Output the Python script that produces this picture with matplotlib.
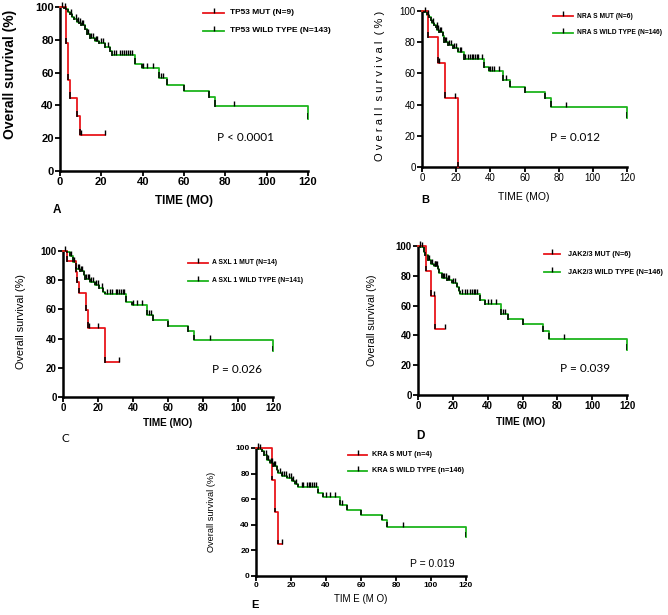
#!/usr/bin/env python3
# km_panels.py - overall survival by mutation status, five KM panels
import matplotlib
matplotlib.use('Agg')
import matplotlib.pyplot as plt
from matplotlib.lines import Line2D

plt.rcParams['font.family'] = ['Liberation Sans', 'DejaVu Sans']

W, H = 668, 615
RED = '#e8161b'
GREEN = '#1eb41e'
XTICKS = [0, 20, 40, 60, 80, 100, 120]
YTICKS = [0, 20, 40, 60, 80, 100]

# --- A: TP53
tp53_mut_t = [0, 3, 4, 5, 8.4, 9.5]
tp53_mut_s = [100, 77.8, 55.6, 44.4, 33.3, 22.2]
tp53_mut_end = 22
tp53_mut_cens = [10, 22]
tp53_wt_t = [0, 2, 3, 4, 5, 6, 7, 8, 9, 10, 12, 13, 14.5, 17, 19, 22, 24, 25, 36.5, 39.5, 48, 52, 60, 72, 75, 120]
tp53_wt_s = [100, 99.3, 98.5, 97, 95.5, 94, 92.5, 91, 90, 89, 86.5, 83.5, 81, 79.5, 78, 75.5, 73, 70.5, 65.5, 63, 57, 52.5, 49, 45, 39.5, 32]
tp53_wt_cens = [1, 2.5, 5.5, 7.5, 8.5, 9.5, 10.5, 11, 13.5, 15, 16, 17.5, 18, 20, 21, 23, 26, 27, 29, 30, 31, 32, 33, 34, 35, 40, 42, 45, 49, 50, 84]

# --- B: NRAS
nras_mut_t = [0, 3.3, 9.1, 13.2, 21]
nras_mut_s = [100, 83.3, 66.7, 44.4, 0]
nras_mut_end = 21
nras_mut_cens = [10, 19.6]
nras_wt_t = [0, 1, 3, 4, 5, 6, 7, 8, 9, 10, 12, 13, 15, 18, 21, 24.3, 36, 39, 47.7, 51.6, 60, 72, 75.3, 120]
nras_wt_s = [100, 99.3, 97.5, 96, 94, 92.5, 91, 89.5, 88, 86.5, 84, 80, 78, 76, 74, 69, 64, 61.7, 55.7, 51.5, 48, 44, 38.5, 31.5]
nras_wt_cens = [1.5, 3.5, 6.5, 8.5, 9.5, 10.5, 11, 13.5, 14, 16, 17, 19, 20, 22, 23, 25, 27, 28, 29, 30, 31, 32, 33, 35, 40, 41, 42, 45, 49, 84]

# --- C: ASXL1
asxl1_mut_t = [0, 2.5, 7.5, 8, 9, 13, 14, 24]
asxl1_mut_s = [100, 92.9, 85.7, 78.6, 71.4, 59.5, 47.6, 23.8]
asxl1_mut_end = 32
asxl1_mut_cens = [15, 20, 32]
asxl1_wt_t = [0, 2, 3.8, 5.7, 7.3, 9.6, 11.9, 12.4, 15.3, 18.2, 20.6, 23, 24, 36, 39.2, 47.8, 51.6, 59.8, 71.7, 75.1, 120]
asxl1_wt_s = [100, 99, 96.8, 92.7, 88, 86, 83.6, 80.6, 79, 76.8, 74.5, 72.2, 70.6, 65.4, 63, 56.3, 52.4, 48.3, 44.9, 39.2, 31.7]
asxl1_wt_cens = [1, 4.5, 6.5, 8.5, 9, 10, 11, 13, 14, 15, 16, 17, 19, 20, 22, 25, 27, 28, 30, 31, 32, 33, 34, 35, 40, 42, 45, 49, 50, 84]

# --- D: JAK2/3
jak_mut_t = [0, 4.8, 7.5, 10]
jak_mut_s = [100, 83.3, 66.7, 44.4]
jak_mut_end = 15
jak_mut_cens = [9, 15.3]
jak_wt_t = [0, 1.3, 3.3, 4.2, 5.5, 7.5, 9, 11.3, 12.2, 13.8, 16.7, 19.5, 22.4, 23.3, 24.3, 35.8, 38.7, 47.8, 51.7, 60.1, 71.8, 75, 120]
jak_wt_s = [100, 99, 96, 93.7, 90.4, 88, 86.6, 84.8, 81.9, 78.7, 77, 75.2, 72.5, 69.8, 68, 63.5, 60.9, 54.1, 50.8, 47.4, 42.9, 37.8, 30.4]
jak_wt_cens = [1, 2.5, 6.5, 8, 9.5, 10, 10.5, 11, 14.5, 15, 16, 17.5, 18, 20, 21, 25, 27, 28, 30, 31, 32, 33, 34, 40, 42, 45, 49, 50, 84]

# --- E: KRAS
kras_mut_t = [0, 9.2, 11, 12.8]
kras_mut_s = [100, 75, 50, 25]
kras_mut_end = 15
kras_mut_cens = [14.7]
kras_wt_t = [0, 1.3, 3.2, 4.8, 6.5, 8, 9.5, 11.8, 12.8, 14.7, 17.6, 20.4, 22.3, 24.2, 35.7, 38.5, 48.1, 51.9, 59.9, 71.9, 74.8, 120]
kras_wt_s = [100, 99, 97.4, 94.3, 90.9, 88.3, 85.6, 83, 80.4, 78.3, 76.5, 74.4, 71.8, 69.5, 64.8, 62.1, 55.6, 51.7, 47.8, 43.9, 38.6, 30.8]
kras_wt_cens = [1, 2.5, 5.5, 7, 8.5, 9, 10, 11, 13.5, 15, 16, 17, 19, 20, 21, 23, 26, 27, 29, 30, 31, 32, 33, 34, 40, 42, 45, 49, 84]


def px(x, y):
    return x / W, 1 - y / H


def surv_at(t, s, c):
    v = s[0]
    for ti, si in zip(t, s):
        if ti <= c:
            v = si
    return v


def km(ax, t, s, end, cens, color):
    ax.step(list(t) + [end], list(s) + [s[-1]], where='post', color=color,
            lw=1.3, zorder=3, clip_on=False)
    for i in range(1, len(t)):
        drop = s[i - 1] - s[i]
        ax.vlines(t[i], s[i] - 0.3, s[i] + min(drop, 3.5), color='k', lw=1.1, zorder=4)
    cy = [surv_at(t, s, c) for c in cens]
    ax.plot(cens, cy, ls='none', marker=2, ms=3.3, mew=1.0, color='k', zorder=5, clip_on=False)


def legend(fig, labels, ys, x0, x1, xt, fs):
    for lab, c, y in zip(labels, [RED, GREEN], ys):
        fig.add_artist(Line2D([x0 / W, x1 / W], [1 - y / H] * 2, color=c, lw=1.3,
                              transform=fig.transFigure))
        fig.add_artist(Line2D([(x0 + x1) / 2 / W], [1 - y / H], marker=2, ms=3.3, mew=1.0,
                              color='k', transform=fig.transFigure))
        fig.text(xt / W, 1 - y / H, lab, fontsize=fs, fontweight='bold', va='center')


def panel(fig, box, tsize, tweight):
    l, t, r, b = box
    ax = fig.add_axes([l / W, 1 - b / H, (r - l) / W, (b - t) / H])
    for sp in ('top', 'right'):
        ax.spines[sp].set_visible(False)
    for sp in ('left', 'bottom'):
        ax.spines[sp].set_linewidth(1.8)
    ax.set_xlim(0, 120); ax.set_ylim(0, 100)
    ax.set_xticks(XTICKS); ax.set_yticks(YTICKS)
    ax.tick_params(direction='out', length=3.5, width=1.3, labelsize=tsize, pad=1)
    for lab in ax.get_xticklabels() + ax.get_yticklabels():
        lab.set_fontweight(tweight)
    return ax


fig = plt.figure(figsize=(W / 100, H / 100), dpi=100)

# A
ax = panel(fig, (60, 7, 308, 171), 8, 'bold')
km(ax, tp53_wt_t, tp53_wt_s, 120, tp53_wt_cens, GREEN)
km(ax, tp53_mut_t, tp53_mut_s, tp53_mut_end, tp53_mut_cens, RED)
ax.text(76, 20.5, 'P < 0.0001', fontsize=8.5, family=['Lato', 'DejaVu Sans'], va='center')
legend(fig, ['TP53 MUT (N=9)', 'TP53 WILD TYPE (N=143)'], [13, 31], 203, 224, 230, 6.0)
fig.text(*px(10, 74), 'Overall survival (%)', rotation=90, fontsize=10, fontweight='bold', ha='center', va='center')
fig.text(*px(184, 201), 'TIME (MO)', fontsize=8.5, fontweight='bold', ha='center', va='center')
fig.text(*px(57, 210), 'A', fontsize=8.5, fontweight='bold', ha='center', va='center')

# B
ax = panel(fig, (422, 11, 627, 167), 7, 'normal')
km(ax, nras_wt_t, nras_wt_s, 120, nras_wt_cens, GREEN)
km(ax, nras_mut_t, nras_mut_s, nras_mut_end, nras_mut_cens, RED)
ax.text(75, 19, 'P = 0.012', fontsize=8.5, family=['Lato', 'DejaVu Sans'], va='center')
legend(fig, ['NRA S MUT (N=6)', 'NRA S WILD TYPE (N=146)'], [16, 33], 553, 573, 577, 4.8)
fig.text(*px(380, 86), 'O v e r a l l  s u r v i v a l  ( % )', rotation=90, fontsize=8, ha='center', va='center')
fig.text(*px(524, 197), 'TIME (MO)', fontsize=7.5, ha='center', va='center')
fig.text(*px(425, 200), 'B', fontsize=8, fontweight='bold', ha='center', va='center')

# C
ax = panel(fig, (63, 251, 273, 397), 7, 'bold')
km(ax, asxl1_wt_t, asxl1_wt_s, 120, asxl1_wt_cens, GREEN)
km(ax, asxl1_mut_t, asxl1_mut_s, asxl1_mut_end, asxl1_mut_cens, RED)
ax.text(85, 18.5, 'P = 0.026', fontsize=8.5, family=['Lato', 'DejaVu Sans'], va='center')
legend(fig, ['A SXL 1 MUT (N=14)', 'A SXL 1 WILD TYPE (N=141)'], [263, 281], 188, 208, 212, 4.9)
fig.text(*px(21, 322), 'Overall survival (%)', rotation=90, fontsize=7.8, ha='center', va='center')
fig.text(*px(168, 423), 'TIME (MO)', fontsize=7.2, fontweight='bold', ha='center', va='center')
fig.text(*px(65, 438), 'C', fontsize=8.5, family=['Lato', 'DejaVu Sans'], ha='center', va='center')

# D
ax = panel(fig, (418, 246, 627, 395), 7, 'bold')
km(ax, jak_wt_t, jak_wt_s, 120, jak_wt_cens, GREEN)
km(ax, jak_mut_t, jak_mut_s, jak_mut_end, jak_mut_cens, RED)
ax.text(81.5, 17.5, 'P = 0.039', fontsize=8.5, family=['Lato', 'DejaVu Sans'], va='center')
legend(fig, ['JAK2/3 MUT (N=6)', 'JAK2/3 WILD TYPE (N=146)'], [254, 272], 544, 560, 568, 5.2)
fig.text(*px(372, 320), 'Overall survival (%)', rotation=90, fontsize=7.6, ha='center', va='center')
fig.text(*px(521, 422), 'TIME (MO)', fontsize=7.2, fontweight='bold', ha='center', va='center')
fig.text(*px(420, 436), 'D', fontsize=8.5, fontweight='bold', ha='center', va='center')

# E
ax = panel(fig, (256, 448, 466, 576), 6, 'bold')
km(ax, kras_wt_t, kras_wt_s, 120, kras_wt_cens, GREEN)
km(ax, kras_mut_t, kras_mut_s, kras_mut_end, kras_mut_cens, RED)
ax.text(88, 9.4, 'P = 0.019', fontsize=7.5, va='center')
legend(fig, ['KRA S MUT (n=4)', 'KRA S WILD TYPE (n=146)'], [455, 471], 348, 367, 372, 5.2)
fig.text(*px(212, 512), 'Overall survival (%)', rotation=90, fontsize=6.6, ha='center', va='center')
fig.text(*px(361, 599), 'TIM E (M O)', fontsize=7, ha='center', va='center')
fig.text(*px(255, 605), 'E', fontsize=8, fontweight='bold', ha='center', va='center')

fig.savefig('out.png', dpi=100)
